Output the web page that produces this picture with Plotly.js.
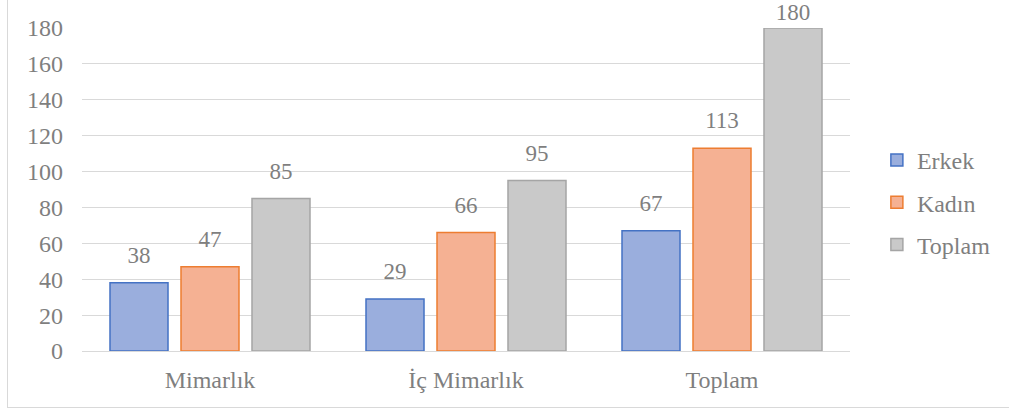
<!DOCTYPE html>
<html>
<head>
<meta charset="utf-8">
<script src="https://cdn.plot.ly/plotly-3.0.1.min.js"></script>
<style>
html,body{margin:0;padding:0;background:#fff;overflow:hidden;}
#frame{position:absolute;left:7px;top:-5px;width:1010px;height:413px;border:1px solid #d9d9d9;box-sizing:border-box;}
#chart{position:absolute;left:0;top:0;width:1009px;height:414px;}
</style>
</head>
<body>
<div id="frame"></div>
<div id="chart"></div>
<script>
const categories = ["Mimarlık", "İç Mimarlık", "Toplam"];
const seriesNames = ["Erkek", "Kadın", "Toplam"];
const erkek = [38, 29, 67];
const kadin = [47, 66, 113];
const toplam = [85, 95, 180];
const tickVals = [0, 20, 40, 60, 80, 100, 120, 140, 160, 180];

const fills = ["#9aaedd", "#f5b193", "#c9c9c9"];
const lines = ["#4472c4", "#ed7d31", "#a5a5a5"];
const values = [erkek, kadin, toplam];
const FAM = "Liberation Serif";
const GREY = "#7f7f7f";
const mkFont = (s) => ({family: FAM, color: GREY, size: s});
const YMAX = 180;

const bars = values.map((v, i) => ({
  type: "bar",
  name: seriesNames[i],
  legendgroup: "g" + i,
  offsetgroup: "o" + i,
  x: categories,
  y: v,
  marker: {color: fills[i], line: {color: lines[i], width: 1.5}},
  hoverinfo: "none"
}));

const labels = values.map((v, i) => ({
  type: "scatter",
  mode: "text+markers",
  showlegend: false,
  offsetgroup: "o" + i,
  x: categories,
  y: v,
  text: v.map(String),
  textposition: "top center",
  cliponaxis: false,
  textfont: mkFont(23),
  marker: {size: v.map(n => n >= YMAX ? 2 : 21), opacity: 0, color: "#fff"},
  hoverinfo: "none"
}));

const layout = {
  width: 1009, height: 414,
  margin: {l: 82, r: 159, t: 28, b: 63, autoexpand: false},
  paper_bgcolor: "rgba(0,0,0,0)",
  plot_bgcolor: "rgba(0,0,0,0)",
  barmode: "group",
  scattermode: "group",
  bargap: 0.168,
  scattergap: 0.168,
  bargroupgap: 0.183,
  font: mkFont(24),
  showlegend: true,
  legend: {x: 1.035, y: 0.46, xanchor: "left", yanchor: "middle", traceorder: "grouped", tracegroupgap: 8, font: mkFont(24), itemwidth: 30, bgcolor: "rgba(0,0,0,0)"},
  xaxis: {showgrid: false, showline: true, linecolor: "#d9d9d9", linewidth: 1, ticks: "", tickfont: mkFont(24), zeroline: false, ticklabelstandoff: 7},
  yaxis: {range: [0, YMAX], tickvals: tickVals, showgrid: true, gridcolor: "#d9d9d9", gridwidth: 1, zeroline: false, showline: false, ticks: "", tickfont: mkFont(24), ticklabelstandoff: 18}
};

Plotly.newPlot("chart", bars.concat(labels), layout, {displayModeBar: false});
</script>
</body>
</html>
